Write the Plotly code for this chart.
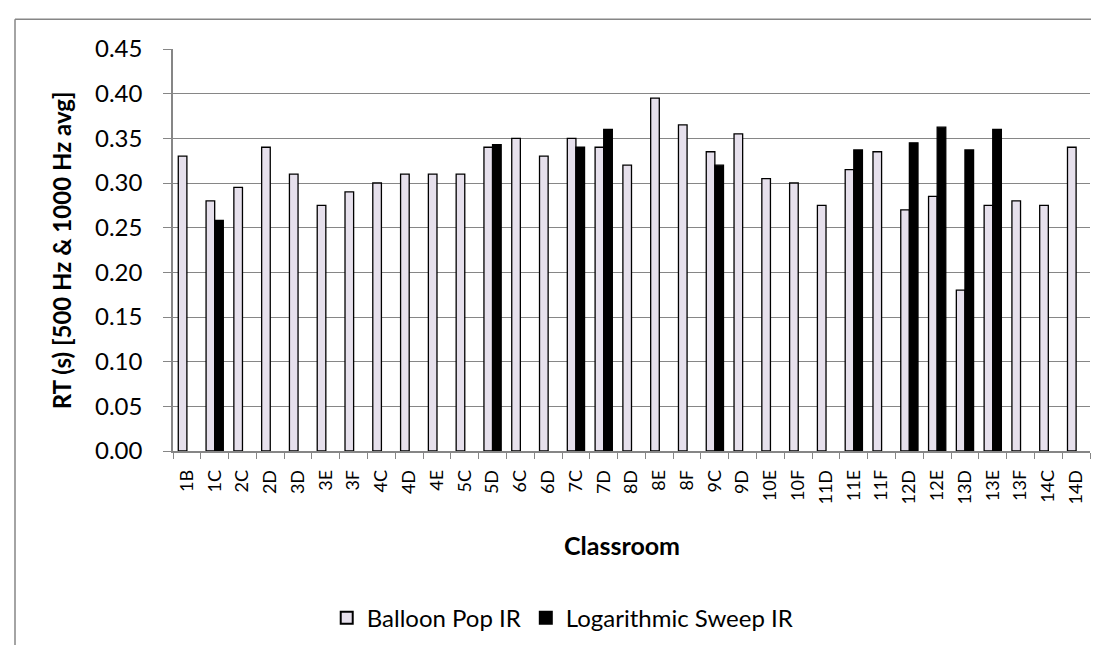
import plotly.graph_objects as go

classrooms = ["1B", "1C", "2C", "2D", "3D", "3E", "3F", "4C", "4D", "4E", "5C", "5D", "6C", "6D",
              "7C", "7D", "8D", "8E", "8F", "9C", "9D", "10E", "10F", "11D", "11E", "11F", "12D",
              "12E", "13D", "13E", "13F", "14C", "14D"]
balloon_pop = [0.33, 0.28, 0.295, 0.34, 0.31, 0.275, 0.29, 0.30, 0.31, 0.31, 0.31, 0.34, 0.35, 0.33,
               0.35, 0.34, 0.32, 0.395, 0.365, 0.335, 0.355, 0.305, 0.30, 0.275, 0.315, 0.335, 0.27,
               0.285, 0.18, 0.275, 0.28, 0.275, 0.34]
log_sweep = [None, 0.258, None, None, None, None, None, None, None, None, None, 0.343, None, None,
             0.34, 0.36, None, None, None, 0.32, None, None, None, None, 0.337, None, 0.345,
             0.3625, 0.337, 0.36, None, None, None]
y_ticks = [0.00, 0.05, 0.10, 0.15, 0.20, 0.25, 0.30, 0.35, 0.40, 0.45]

FONT = "Lato"
GRAY = "#868686"

fig = go.Figure()
fig.add_trace(go.Bar(x=classrooms, y=balloon_pop, name="Balloon Pop IR",
                     marker=dict(color="#E6E0EC", line=dict(color="black", width=1.3))))
fig.add_trace(go.Bar(x=classrooms, y=log_sweep, name="Logarithmic Sweep IR",
                     marker=dict(color="black", line=dict(color="black", width=1.3))))

fig.update_layout(
    width=1099, height=645,
    margin=dict(l=165, r=17, t=41, b=200),
    paper_bgcolor="white", plot_bgcolor="white",
    barmode="group", bargap=0.38, bargroupgap=0,
    font=dict(family=FONT, color="black"),
    showlegend=True,
    legend=dict(orientation="h", x=0.425, y=-0.416, xanchor="center", yanchor="middle",
                font=dict(size=24, family=FONT), itemsizing="constant", traceorder="normal",
                itemwidth=30),
)
fig.update_xaxes(
    type="category", tickangle=-90, tickfont=dict(size=18, family=FONT),
    showline=True, linecolor=GRAY, linewidth=1.5,
    ticks="outside", tickson="boundaries", ticklen=6, tickcolor=GRAY,
    showgrid=False, ticklabelstandoff=10,
)
fig.update_yaxes(
    range=[0, 0.45], tickvals=y_ticks, tickformat=".2f",
    tickfont=dict(size=24, family=FONT),
    showline=True, linecolor=GRAY, linewidth=1.5,
    ticks="outside", ticklen=8, tickcolor=GRAY, ticklabelstandoff=16,
    showgrid=True, gridcolor=GRAY, gridwidth=1.2, zeroline=False,
)
fig.add_annotation(text="<b>RT (s) [500 Hz & 1000 Hz avg]</b>", xref="paper", yref="paper",
                   x=-0.122, y=0.5, textangle=-90, showarrow=False,
                   font=dict(size=24, family=FONT), xanchor="center", yanchor="middle")
fig.add_annotation(text="<b>Classroom</b>", xref="paper", yref="paper",
                   x=0.49, y=-0.235, showarrow=False,
                   font=dict(size=25, family=FONT), xanchor="center", yanchor="middle")
# chart-area frame
fig.add_shape(type="line", xref="paper", yref="paper", x0=-0.1723, x1=1.05, y0=1.0743, y1=1.0743,
              line=dict(color=GRAY, width=1.5))
fig.add_shape(type="line", xref="paper", yref="paper", x0=-0.1723, x1=-0.1723, y0=1.0743, y1=-0.5,
              line=dict(color=GRAY, width=1.5))

fig.write_html("out.html")
